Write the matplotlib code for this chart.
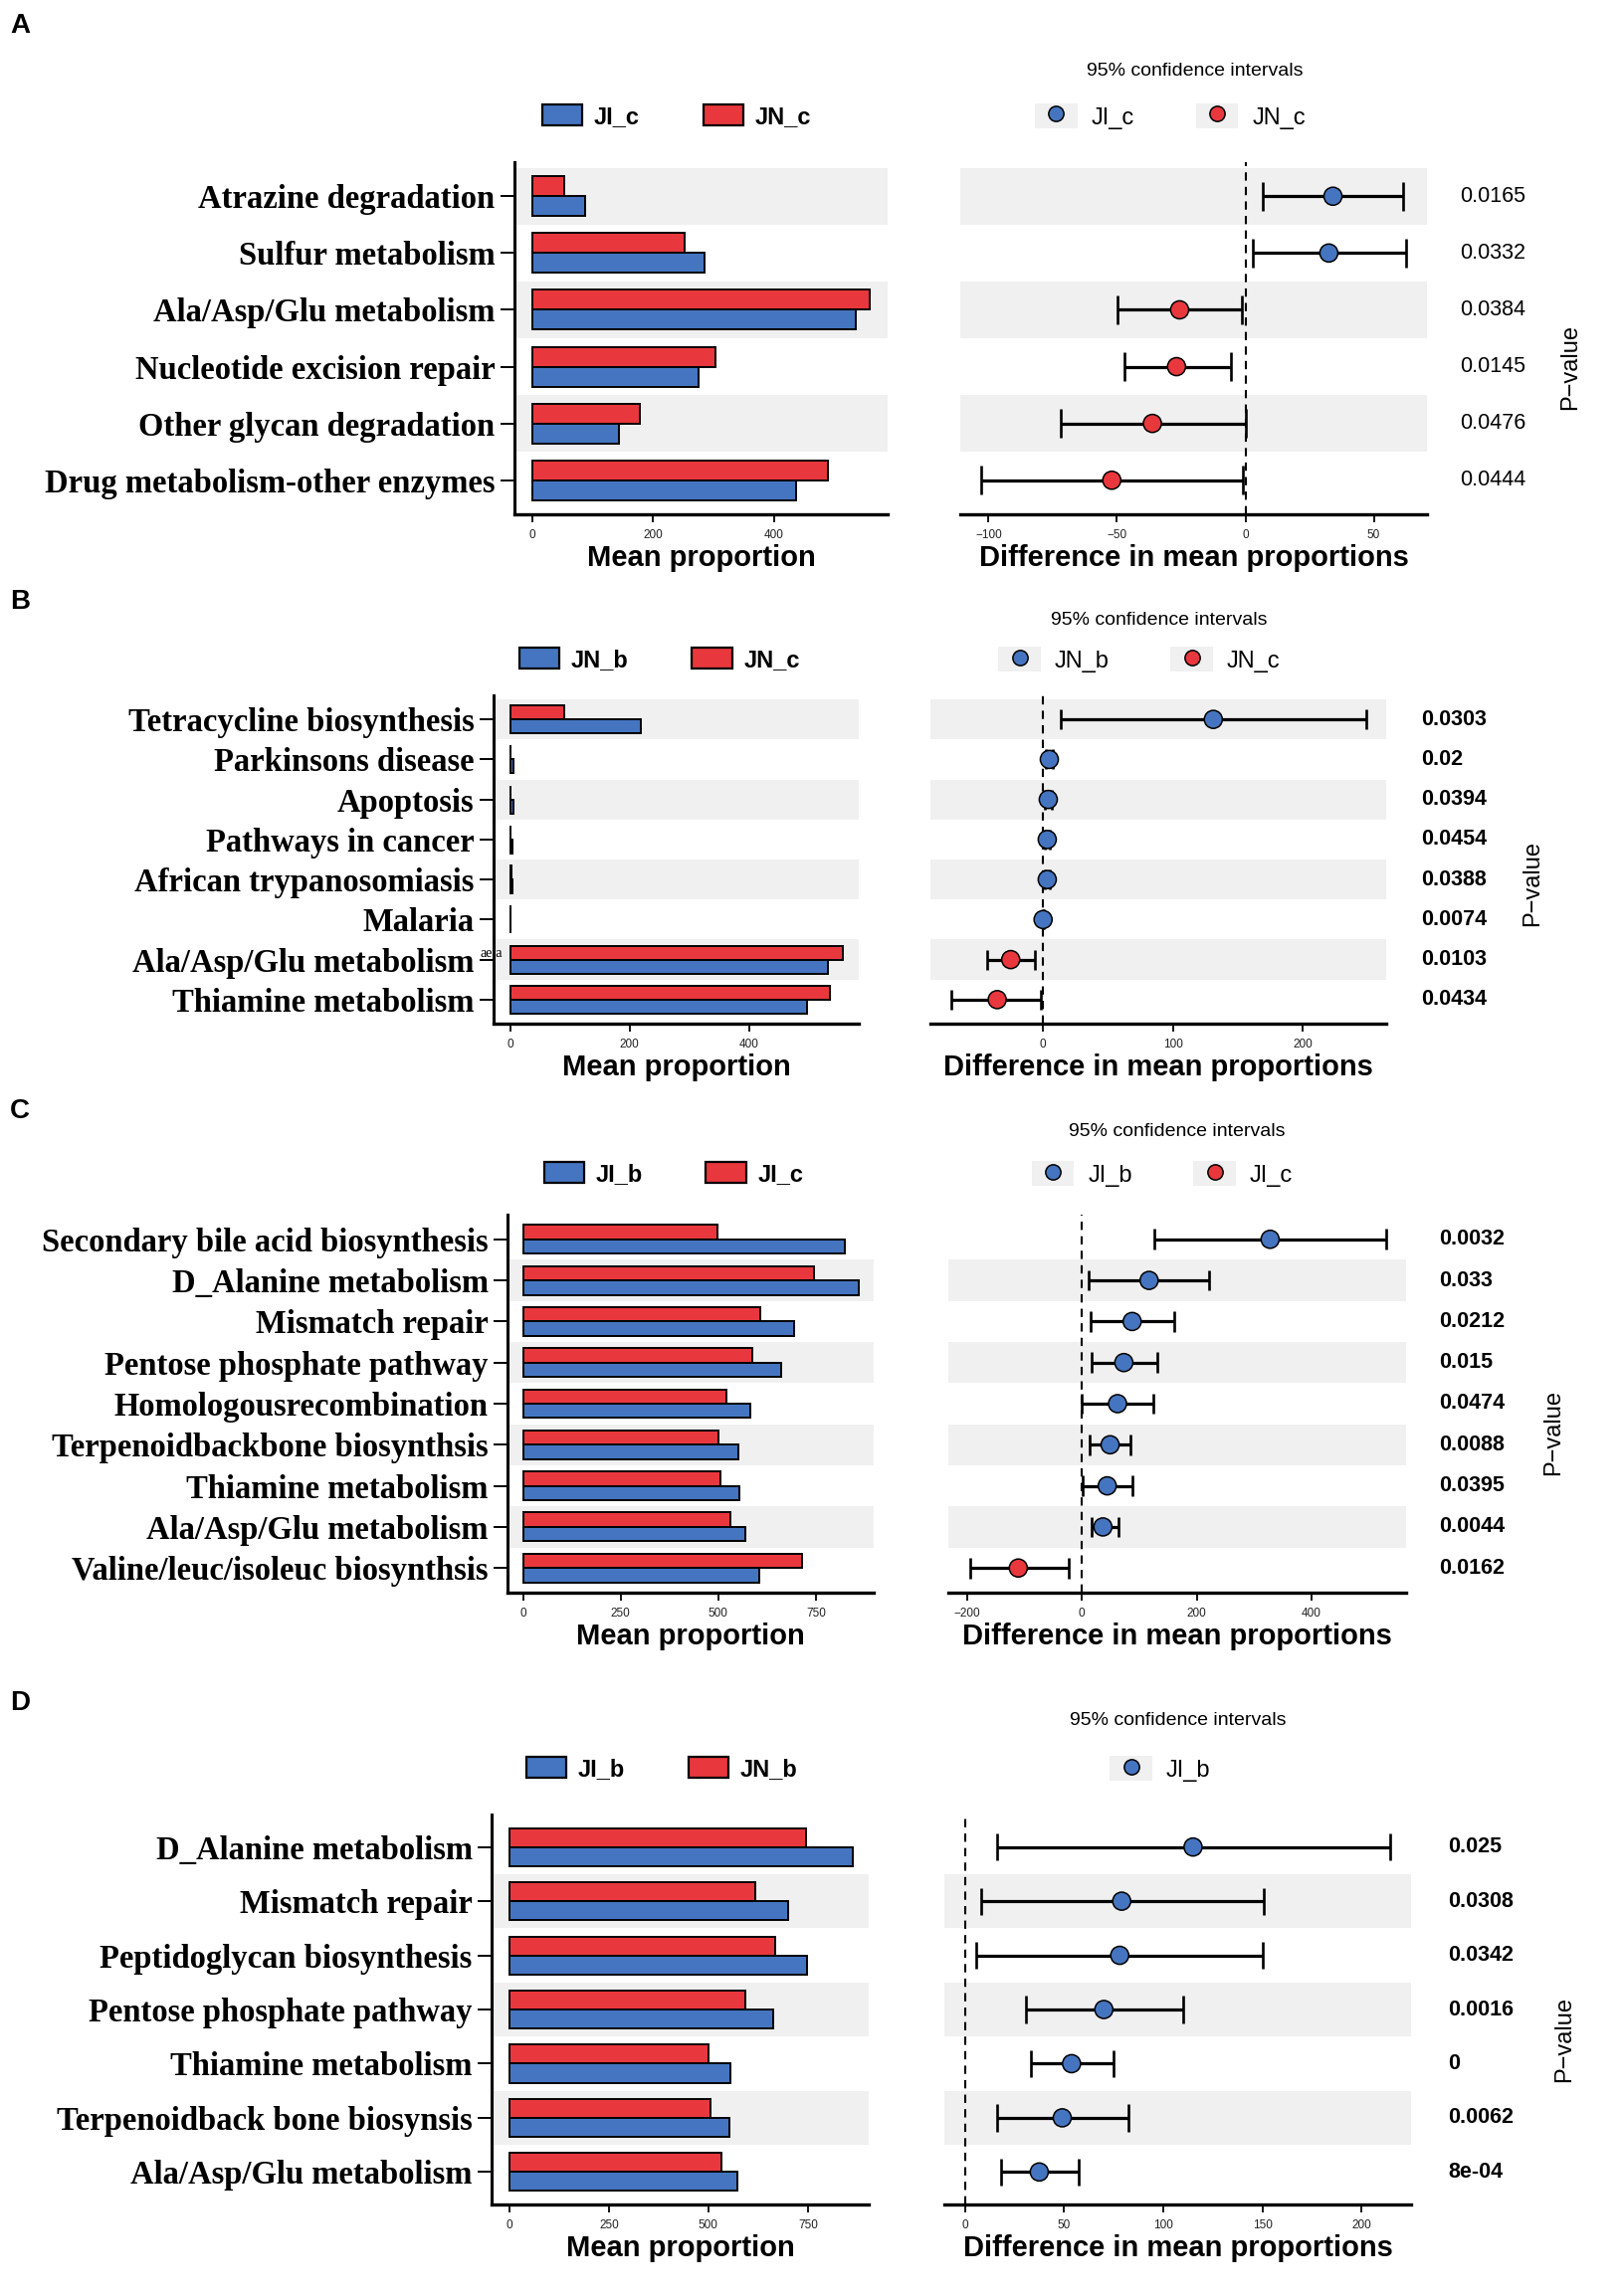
import numpy as np
import matplotlib
matplotlib.use('Agg')
import matplotlib.pyplot as plt
from matplotlib.patches import Patch
from matplotlib.lines import Line2D
from matplotlib.legend_handler import HandlerTuple
from matplotlib.transforms import blended_transform_factory

# ---- data ----
# panel A : JI_c vs JN_c
a_path = ['Atrazine degradation', 'Sulfur metabolism', 'Ala/Asp/Glu metabolism',
          'Nucleotide excision repair', 'Other glycan degradation', 'Drug metabolism-other enzymes']
a_blue = [88, 286, 535, 276, 143, 436]
a_red = [53, 252, 559, 303, 179, 490]
a_diff = [34.1, 32.5, -25.6, -26.8, -36.2, -52.0]
a_lo = [6.9, 2.8, -49.6, -47.2, -72.0, -102.8]
a_hi = [61.4, 62.6, -1.2, -5.7, 0.0, -0.8]
a_p = ['0.0165', '0.0332', '0.0384', '0.0145', '0.0476', '0.0444']

# panel B : JN_b vs JN_c
b_path = ['Tetracycline biosynthesis', 'Parkinsons disease', 'Apoptosis', 'Pathways in cancer',
          'African trypanosomiasis', 'Malaria', 'Ala/Asp/Glu metabolism', 'Thiamine metabolism']
b_blue = [219, 6, 5, 4, 4.5, 0.8, 533, 498]
b_red = [91, 1, 1, 0.8, 1.3, 0.8, 558, 535]
b_diff = [131, 4.8, 4.0, 3.2, 3.2, 0.0, -24.9, -35.3]
b_lo = [13.7, 2.4, 1.5, 1.0, 1.0, -0.5, -43.4, -70.7]
b_hi = [249, 7.2, 6.5, 5.5, 5.5, 0.5, -6.4, -1.6]
b_p = ['0.0303', '0.02', '0.0394', '0.0454', '0.0388', '0.0074', '0.0103', '0.0434']

# panel C : JI_b vs JI_c
c_path = ['Secondary bile acid biosynthesis', 'D_Alanine metabolism', 'Mismatch repair',
          'Pentose phosphate pathway', 'Homologousrecombination', 'Terpenoidbackbone biosynthsis',
          'Thiamine metabolism', 'Ala/Asp/Glu metabolism', 'Valine/leuc/isoleuc biosynthsis']
c_blue = [823, 860, 694, 661, 583, 551, 554, 570, 605]
c_red = [497, 745, 608, 586, 522, 500, 505, 532, 715]
c_diff = [328, 117, 87.5, 73, 62, 49, 44, 36.5, -111]
c_lo = [126, 11, 14.6, 16.4, 0, 12.8, 1.8, 16.4, -195]
c_hi = [531, 222, 160, 131, 124, 84, 87.5, 64, -23.7]
c_p = ['0.0032', '0.033', '0.0212', '0.015', '0.0474', '0.0088', '0.0395', '0.0044', '0.0162']

# panel D : JI_b vs JN_b
d_path = ['D_Alanine metabolism', 'Mismatch repair', 'Peptidoglycan biosynthesis',
          'Pentose phosphate pathway', 'Thiamine metabolism', 'Terpenoidback bone biosynsis',
          'Ala/Asp/Glu metabolism']
d_blue = [863, 700, 747, 663, 555, 553, 574]
d_red = [745, 618, 668, 592, 500, 505, 534]
d_diff = [115, 79, 78, 70, 53.7, 49, 37.4]
d_lo = [16.3, 7.9, 5.8, 30.5, 33, 16.3, 17.9]
d_hi = [214.7, 150.5, 150, 110, 75, 82.6, 57.4]
d_p = ['0.025', '0.0308', '0.0342', '0.0016', '0', '0.0062', '8e-04']

W, H = 1633, 2308
BLUE = '#4575C0'
RED = '#E8383D'
SHADE = '#F0F0F0'
SANS = 'Liberation Sans'
SERIF = 'Liberation Serif'

fig = plt.figure(figsize=(W / 100, H / 100), dpi=100)


def box(x0, x1, y0, y1):
    # pixel box -> figure fraction
    return [x0 / W, 1 - y1 / H, (x1 - x0) / W, (y1 - y0) / H]


def panel(letter, paths, blue, red, diff, lo, hi, pvals, names, dnames,
          barx, diffx, ypx, bar_lim, diff_lim, bar_ticks, diff_ticks,
          p_x, pv_pos, leg_y, leg_l, leg_r, title_pos, letter_y, p_bold):
    n = len(paths)
    y = np.arange(n, 0, -1)
    ax1 = fig.add_axes(box(barx[0], barx[1], ypx[0], ypx[1]))
    ax2 = fig.add_axes(box(diffx[0], diffx[1], ypx[0], ypx[1]))
    for ax in (ax1, ax2):
        for k in range(2, n + 1, 2):
            ax.axhspan(k - 0.5, k + 0.5, color=SHADE, lw=0, zorder=0)
        ax.set_ylim(0.4, n + 0.6)
        ax.spines['top'].set_visible(False)
        ax.spines['right'].set_visible(False)
        ax.spines['bottom'].set_linewidth(2.4)
        ax.tick_params(axis='x', length=6, width=1.3, labelsize=8.5, pad=5, labelcolor='#222222')
        for t in ax.get_xticklabels():
            t.set_family(SANS)

    # mean proportion bars
    ax1.barh(y + 0.175, red, height=0.35, color=RED, edgecolor='black', lw=1.4, zorder=2)
    ax1.barh(y - 0.175, blue, height=0.35, color=BLUE, edgecolor='black', lw=1.4, zorder=2)
    ax1.set_xlim(*bar_lim)
    ax1.set_xticks(bar_ticks)
    ax1.spines['left'].set_linewidth(2.2)
    ax1.set_yticks(y)
    ax1.set_yticklabels(paths, family=SERIF, weight='bold', size=23.5)
    ax1.tick_params(axis='y', length=10, width=1.4, pad=4)
    ax1.set_xlabel('Mean proportion', family=SANS, weight='bold', size=21, labelpad=2)

    # difference with 95% CI
    ax2.spines['left'].set_visible(False)
    ax2.set_yticks([])
    ax2.set_xlim(*diff_lim)
    ax2.set_xticks(diff_ticks)
    ax2.axvline(0, color='black', ls=(0, (4, 3)), lw=1.5, zorder=1)
    ax2.hlines(y, lo, hi, color='black', lw=2.3, zorder=2)
    ax2.vlines(lo, y - 0.25, y + 0.25, color='black', lw=1.9, zorder=2)
    ax2.vlines(hi, y - 0.25, y + 0.25, color='black', lw=1.9, zorder=2)
    cols = [BLUE if d >= 0 else RED for d in diff]
    ax2.scatter(diff, y, s=170, c=cols, edgecolors='black', linewidths=1.1, zorder=3)
    ax2.set_xlabel('Difference in mean proportions', family=SANS, weight='bold', size=21, labelpad=2)

    tr = blended_transform_factory(fig.transFigure, ax2.transData)
    for yi, p in zip(y, pvals):
        ax2.text(p_x / W, yi, p, transform=tr, ha='left', va='center', size=15.5,
                 family=SANS, weight='bold' if p_bold else 'normal')
    fig.text(pv_pos[0] / W, 1 - pv_pos[1] / H, 'P\u2212value', rotation=90,
             ha='center', va='center', size=17, family=SANS)

    # legends
    hb = [Patch(facecolor=BLUE, edgecolor='black', lw=1.6, label=names[0]),
          Patch(facecolor=RED, edgecolor='black', lw=1.6, label=names[1])]
    fig.legend(handles=hb, loc='center', bbox_to_anchor=(leg_l / W, 1 - leg_y / H),
               ncol=2, frameon=False, prop=dict(family=SANS, weight='bold', size=17),
               handlelength=1.7, handleheight=0.95, handletextpad=0.5, columnspacing=2.7)
    hd, ld = [], []
    for nm, col in zip(dnames, [BLUE, RED]):
        hd.append((Patch(facecolor=SHADE, edgecolor='none'),
                   Line2D([], [], ls='none', marker='o', markersize=11,
                          markerfacecolor=col, markeredgecolor='black', markeredgewidth=1.1)))
        ld.append(nm)
    fig.legend(hd, ld, loc='center', bbox_to_anchor=(leg_r / W, 1 - leg_y / H),
               ncol=2, frameon=False, prop=dict(family=SANS, size=17),
               handler_map={tuple: HandlerTuple(ndivide=1)},
               handlelength=1.8, handleheight=1.2, handletextpad=0.6, columnspacing=2.6)
    fig.text(title_pos[0] / W, 1 - title_pos[1] / H, '95% confidence intervals',
             ha='center', va='center', size=14, family=SANS)
    fig.text(10 / W, 1 - letter_y / H, letter, ha='left', va='center', size=20,
             weight='bold', family=SANS)
    return ax1, ax2


panel('A', a_path, a_blue, a_red, a_diff, a_lo, a_hi, a_p, ['JI_c', 'JN_c'], ['JI_c', 'JN_c'],
      (517, 892), (965, 1434), (163, 517), (-29, 588), (-111, 70.7), [0, 200, 400], [-100, -50, 0, 50],
      1467, (1578, 369), 117, 680, 1176, (1201, 71), 26, False)
panel('B', b_path, b_blue, b_red, b_diff, b_lo, b_hi, b_p, ['JN_b', 'JN_c'], ['JN_b', 'JN_c'],
      (496, 863), (935, 1393), (699, 1029), (-28, 584), (-86.7, 264), [0, 200, 400], [0, 100, 200],
      1428, (1540, 888), 663, 663, 1145, (1165, 624), 605, True)
panel('C', c_path, c_blue, c_red, c_diff, c_lo, c_hi, c_p, ['JI_b', 'JI_c'], ['JI_b', 'JI_c'],
      (510, 878), (953, 1413), (1221, 1601), (-40, 898), (-233, 565), [0, 250, 500, 750], [-200, 0, 200, 400],
      1446, (1561, 1440), 1180, 677, 1168, (1183, 1137), 1117, True)
panel('D', d_path, d_blue, d_red, d_diff, d_lo, d_hi, d_p, ['JI_b', 'JN_b'], ['JI_b'],
      (494, 873), (949, 1418), (1824, 2216), (-45, 903), (-10.5, 225), [0, 250, 500, 750], [0, 50, 100, 150, 200],
      1455, (1572, 2050), 1778, 665, 1166, (1184, 1730), 1712, True)

# stray label fragment next to the Ala/Asp/Glu tick in panel B
fig.text(483 / W, 1 - 958 / H, 'aeta', ha='left', va='center', size=10, family=SERIF)

fig.savefig('out.png', dpi=100)
